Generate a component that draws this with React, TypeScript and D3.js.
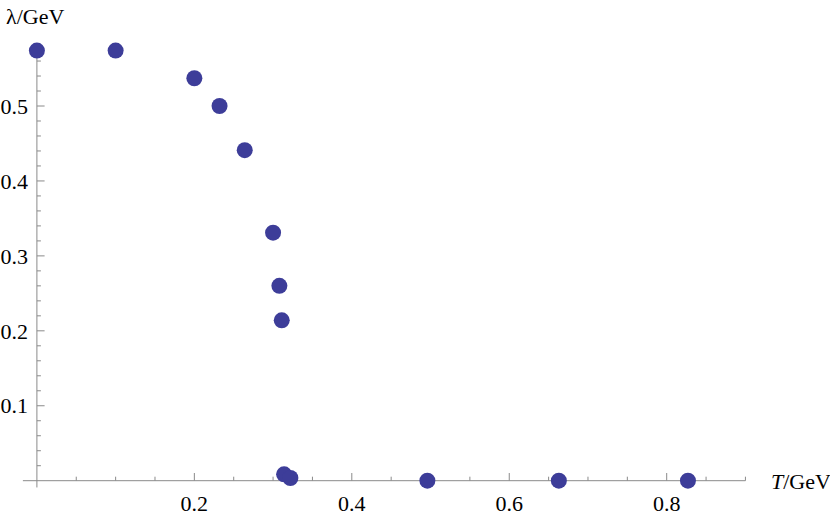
import React, { useEffect, useRef } from 'react';
import * as d3 from 'd3';

// T/GeV and lambda/GeV
const temps = [0, 0.1, 0.2, 0.232, 0.264, 0.3, 0.308, 0.311, 0.314, 0.322, 0.496, 0.663, 0.827];
const lambdas = [0.574, 0.574, 0.537, 0.5, 0.441, 0.331, 0.26, 0.214, 0.0085, 0.0036, 0, 0, 0];

const xMajor = [0.2, 0.4, 0.6, 0.8];
const yMajor = [0.1, 0.2, 0.3, 0.4, 0.5];

export default function App() {
  const ref = useRef<SVGSVGElement>(null);

  useEffect(() => {
    document.body.style.margin = '0';
    const svg = d3.select(ref.current);
    svg.selectAll('*').remove();

    const x = d3.scaleLinear().domain([0, 0.8]).range([36.9, 666.7]);
    const y = d3.scaleLinear().domain([0, 0.5]).range([480.7, 106]);

    const axisColor = '#8a8a8a';
    const font = 'Liberation Serif';

    // axis lines
    svg.append('line')
      .attr('x1', x(-0.0178)).attr('x2', x(0.9))
      .attr('y1', y(0)).attr('y2', y(0))
      .attr('stroke', axisColor).attr('stroke-width', 1);
    svg.append('line')
      .attr('x1', x(0)).attr('x2', x(0))
      .attr('y1', y(-0.009)).attr('y2', y(0.584))
      .attr('stroke', axisColor).attr('stroke-width', 1);

    // x ticks (major every 0.2, minor every 0.05)
    const xTicks = d3.range(1, 19).map(i => i * 0.05);
    svg.selectAll('line.xt')
      .data(xTicks)
      .enter().append('line')
      .attr('class', 'xt')
      .attr('x1', d => x(d)).attr('x2', d => x(d))
      .attr('y1', y(0))
      .attr('y2', (d, i) => y(0) - ((i + 1) % 4 === 0 ? 7.7 : 4))
      .attr('stroke', axisColor);

    // y ticks (major every 0.1, minor every 0.02)
    const yTicks = d3.range(1, 30).map(i => i * 0.02);
    svg.selectAll('line.yt')
      .data(yTicks)
      .enter().append('line')
      .attr('class', 'yt')
      .attr('y1', d => y(d)).attr('y2', d => y(d))
      .attr('x1', x(0))
      .attr('x2', (d, i) => x(0) + ((i + 1) % 5 === 0 ? 7.7 : 4))
      .attr('stroke', axisColor);

    svg.selectAll('text.xl')
      .data(xMajor)
      .enter().append('text')
      .attr('class', 'xl')
      .attr('x', d => x(d))
      .attr('y', 510.5)
      .attr('text-anchor', 'middle')
      .style('font-family', font)
      .style('font-size', '22px')
      .text(d => d3.format('.1f')(d));

    svg.selectAll('text.yl')
      .data(yMajor)
      .enter().append('text')
      .attr('class', 'yl')
      .attr('x', 28)
      .attr('y', d => y(d))
      .attr('dy', '0.35em')
      .attr('text-anchor', 'end')
      .style('font-family', font)
      .style('font-size', '22px')
      .text(d => d3.format('.1f')(d));

    // axis labels
    svg.append('text')
      .attr('x', 6).attr('y', 24)
      .style('font-family', font).style('font-size', '22px')
      .text('λ/GeV');

    const xl = svg.append('text')
      .attr('x', 771).attr('y', 489)
      .style('font-family', font).style('font-size', '22px');
    xl.append('tspan').style('font-style', 'italic').text('T');
    xl.append('tspan').text('/GeV');

    // points
    svg.selectAll('circle')
      .data(temps.map((t, i) => ({ t, l: lambdas[i] })))
      .enter().append('circle')
      .attr('cx', d => x(d.t))
      .attr('cy', d => y(d.l))
      .attr('r', 8)
      .attr('fill', '#3d3d99');
  }, []);

  return <svg ref={ref} width={830} height={517} style={{ display: 'block', background: '#fff' }} />;
}
